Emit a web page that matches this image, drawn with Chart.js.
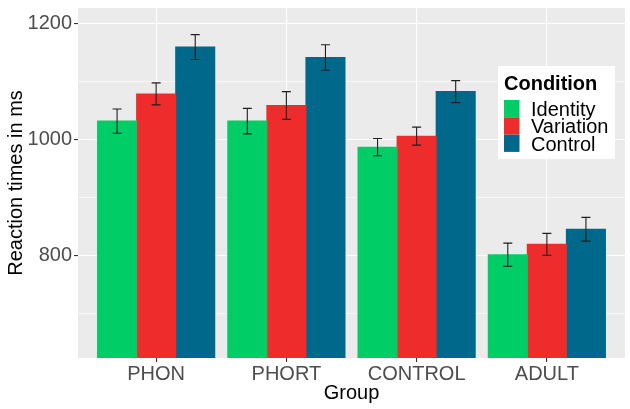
<!DOCTYPE html>
<html>
<head>
<meta charset="utf-8">
<script src="https://cdn.jsdelivr.net/npm/chart.js@4.4.1/dist/chart.umd.min.js"></script>
<style>
  html, body { margin: 0; padding: 0; background: #fff; }
</style>
</head>
<body>
<canvas id="chart" width="630" height="409"></canvas>
<script>
// --- data ---
const groups = ['PHON', 'PHORT', 'CONTROL', 'ADULT'];
const conditions = ['Identity', 'Variation', 'Control'];
const identityRT = [1032, 1032, 987, 801];
const variationRT = [1079, 1059, 1006, 819];
const controlRT = [1160, 1142, 1083, 845];
const identityErr = [21, 22, 15, 20];
const variationErr = [19, 24, 15.5, 19];
const controlErr = [21.5, 22, 19, 20.5];
const yTicks = [700, 800, 900, 1000, 1100, 1200];
const yLabelled = [800, 1000, 1200];

const FONT = "'Liberation Sans', Arial, sans-serif";
const colors = ['#00CD66', '#EE2C2C', '#00688B'];

function series(values) {
  return values.map((v, i) => ({ x: i + 1, y: v }));
}

// grey ggplot panel behind the grid
const panelBg = {
  id: 'panelBg',
  beforeDraw(chart) {
    const { ctx, chartArea: a } = chart;
    ctx.save();
    ctx.fillStyle = '#EBEBEB';
    ctx.fillRect(a.left, a.top, a.right - a.left, a.bottom - a.top);
    ctx.restore();
  }
};

// error bars from each dataset's errors array
const errorBars = {
  id: 'errorBars',
  afterDatasetsDraw(chart) {
    const { ctx } = chart;
    const y = chart.scales.y;
    ctx.save();
    ctx.strokeStyle = '#1f1f1f';
    ctx.lineWidth = 1.1;
    chart.data.datasets.forEach((ds, di) => {
      chart.getDatasetMeta(di).data.forEach((bar, i) => {
        const v = ds.data[i].y, e = ds.errors[i];
        const t = y.getPixelForValue(v + e), b = y.getPixelForValue(v - e);
        const x = bar.x, w = 4.5;
        ctx.beginPath();
        ctx.moveTo(x, t); ctx.lineTo(x, b);
        ctx.moveTo(x - w, t); ctx.lineTo(x + w, t);
        ctx.moveTo(x - w, b); ctx.lineTo(x + w, b);
        ctx.stroke();
      });
    });
    ctx.restore();
  }
};

// legend box drawn inside the panel, like ggplot's legend.position
const insideLegend = {
  id: 'insideLegend',
  afterDraw(chart) {
    const { ctx } = chart;
    const bx = 498, by = 66, bw = 117, bh = 93;
    ctx.save();
    ctx.fillStyle = '#fff';
    ctx.fillRect(bx, by, bw, bh);
    ctx.fillStyle = '#000';
    ctx.textBaseline = 'alphabetic';
    ctx.font = 'bold 20px ' + FONT;
    ctx.fillText('Condition', 504, 90);
    ctx.font = '20px ' + FONT;
    chart.data.datasets.forEach((ds, i) => {
      const ky = 100 + i * 17.3;
      ctx.fillStyle = ds.backgroundColor;
      ctx.fillRect(504, ky, 15.5, 17.3);
      ctx.fillStyle = '#000';
      ctx.fillText(ds.label, 531, ky + 16);
    });
    ctx.restore();
  }
};

new Chart(document.getElementById('chart'), {
  type: 'bar',
  data: {
    datasets: [
      { label: conditions[0], data: series(identityRT), errors: identityErr, backgroundColor: colors[0] },
      { label: conditions[1], data: series(variationRT), errors: variationErr, backgroundColor: colors[1] },
      { label: conditions[2], data: series(controlRT), errors: controlErr, backgroundColor: colors[2] }
    ]
  },
  options: {
    responsive: false,
    animation: false,
    devicePixelRatio: 1,
    layout: { padding: { top: 8, right: 5, left: 0, bottom: 0 } },
    datasets: { bar: { categoryPercentage: 0.9, barPercentage: 1.0, borderWidth: 0, inflateAmount: 0.5 } },
    plugins: { legend: { display: false }, tooltip: { enabled: false } },
    scales: {
      x: {
        type: 'linear',
        min: 0.4,
        max: 4.6,
        offset: false,
        afterBuildTicks: s => { s.ticks = groups.map((g, i) => ({ value: i + 1 })); },
        afterFit: s => { s.height = 51; s.paddingLeft = 0; s.paddingRight = 0; },
        border: { display: false },
        grid: { offset: false, color: '#fff', lineWidth: 1.1, tickLength: 4, tickColor: '#333' },
        ticks: {
          callback: v => groups[v - 1],
          font: { family: FONT, size: 20 },
          color: '#4D4D4D',
          padding: 0,
          maxRotation: 0,
          autoSkip: false
        },
        title: { display: true, text: 'Group', color: '#000', font: { family: FONT, size: 20 }, padding: { top: 0, bottom: 4 } }
      },
      y: {
        min: 622.5,
        max: 1227.5,
        afterBuildTicks: s => { s.ticks = yTicks.map(v => ({ value: v })); },
        afterFit: s => { s.width = 78; s.paddingTop = 0; s.paddingBottom = 0; },
        border: { display: false },
        grid: {
          color: '#fff',
          lineWidth: c => yLabelled.includes(c.tick.value) ? 1.1 : 0.55,
          tickLength: 4,
          tickColor: c => yLabelled.includes(c.tick.value) ? '#333' : 'rgba(0,0,0,0)'
        },
        ticks: {
          callback: v => yLabelled.includes(v) ? String(v) : '',
          font: { family: FONT, size: 20 },
          color: '#4D4D4D',
          padding: 2
        },
        title: { display: true, text: 'Reaction times in ms', color: '#000', font: { family: FONT, size: 20 }, padding: { top: 4, bottom: 0 } }
      }
    }
  },
  plugins: [panelBg, errorBars, insideLegend]
});
</script>
</body>
</html>
